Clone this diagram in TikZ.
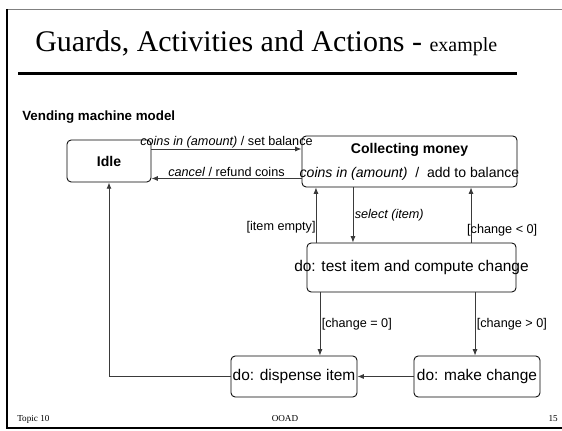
\documentclass[tikz,border=0pt]{standalone}
\usepackage{fontspec}
\setmainfont{Liberation Serif}
\setsansfont{Liberation Sans}
\usetikzlibrary{arrows.meta,positioning,calc}
\definecolor{linegray}{HTML}{3A3A3A}

\begin{document}
\begin{tikzpicture}[
    x=0.025cm, y=-0.025cm,
    every node/.style={font=\sffamily, align=center},
    state/.style={
      rectangle, draw, rounded corners=3pt, line width=0.6pt,
      inner sep=0pt, font=\sffamily\fontsize{10}{12}\selectfont
    },
    activity/.style={state, font=\sffamily\fontsize{11}{13}\selectfont},
    arrow/.style={-{Latex[length=4.5pt,width=3.5pt]}, line width=0.6pt, draw=linegray},
    guard/.style={font=\sffamily\fontsize{9}{11}\selectfont, inner sep=1pt},
  ]
  \useasboundingbox (0,0) rectangle (562,431);

  % --- Slide frame ---
  \draw[line width=0.6pt, gray] (7,9) rectangle (600,428);
  \draw[line width=1.2pt] (7,9) -- (7,428) -- (600,428);
  \draw[line width=2.5pt] (18,73.5) -- (517,73.5);

  % --- Title ---
  \node[anchor=base west, inner sep=0pt,
    font=\rmfamily\fontsize{21.3}{24}\selectfont] (title) at (35,52)
    {Guards, Activities and Actions - {\fontsize{14.2}{16}\selectfont example}};
  \node[anchor=base west, inner sep=0pt,
    font=\sffamily\bfseries\fontsize{9.5}{11}\selectfont] (model) at (22,121)
    {Vending machine model};

  % --- States ---
  \node[state, minimum width=2.1cm, minimum height=1.05cm] (idle) at (109,161)
    {\textbf{Idle}};
  \node[state, minimum width=5.375cm, minimum height=1.275cm] (collect) at (409.5,161.5)
    {\textbf{Collecting money}\\[5pt]
     \makebox[0pt]{\textit{coins in (amount)}\ \ /\ \ add to balance}};
  \node[activity, minimum width=5.225cm, minimum height=1.225cm] (test) at (411.5,267.5)
    {\makebox[0pt]{do: test item and compute change}};
  \node[activity, minimum width=3.15cm, minimum height=1.025cm] (dispense) at (294,376.5)
    {do: dispense item};
  \node[activity, minimum width=3.15cm, minimum height=1.025cm] (makechg) at (477,376.5)
    {do: make change};

  % --- Transitions ---
  \draw[arrow] ([yshift=0.3cm]idle.east) --
    node[guard, above, inner sep=0pt] (coinslbl) {\textit{coins in (amount)} / set balance}
    ([yshift=0.3cm]idle.east -| collect.west);
  \draw[arrow] ([yshift=-0.425cm]collect.west) --
    node[guard, above] (cancellbl) {\textit{cancel} / refund coins}
    ([yshift=-0.425cm]collect.west -| idle.east);

  \draw[arrow] ([xshift=-1.4125cm]collect.south) --
    node[guard, right] (selectlbl) {\textit{select (item)}}
    ([xshift=-1.4125cm]collect.south |- test.north);
  \draw[arrow] ([xshift=-2.3875cm]test.north) --
    node[guard, left, pos=0.27, inner sep=0pt] (emptylbl) {[item empty]}
    ([xshift=-2.3875cm]test.north |- collect.south);
  \draw[arrow] ([xshift=1.4875cm]test.north) --
    node[guard, right, pos=0.22, inner sep=0pt, xshift=-3] (lesslbl) {[change < 0]}
    ([xshift=1.4875cm]test.north |- collect.south);

  \draw[arrow] ([xshift=-2.2875cm]test.south) --
    node[guard, right] (zerolbl) {[change = 0]}
    ([xshift=-2.2875cm]test.south |- dispense.north);
  \draw[arrow] ([xshift=1.5875cm]test.south) --
    node[guard, right] (morelbl) {[change > 0]}
    ([xshift=1.5875cm]test.south |- makechg.north);

  \draw[arrow] (makechg.west) -- (dispense.east);
  \draw[arrow] (dispense.west) -| (idle.south);

  % --- Footer ---
  \node[anchor=base west, inner sep=0pt, font=\rmfamily\fontsize{6.5}{8}\selectfont]
    (topic) at (17,422) {Topic 10};
  \node[anchor=base, inner sep=0pt, font=\rmfamily\fontsize{6.5}{8}\selectfont]
    (course) at (285,422) {OOAD};
  \node[anchor=base east, inner sep=0pt, font=\rmfamily\fontsize{6.5}{8}\selectfont]
    (page) at (558,422) {15};
\end{tikzpicture}
\end{document}
